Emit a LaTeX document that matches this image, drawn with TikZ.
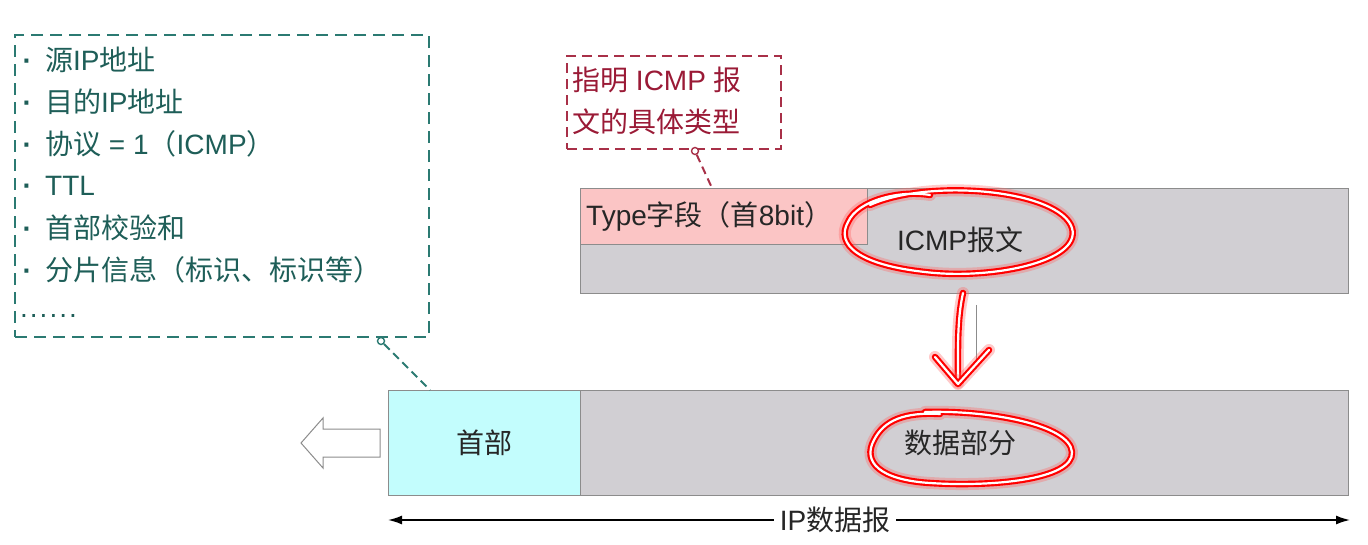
\documentclass[tikz,border=0pt]{standalone}
\usepackage{fontspec}
\setmainfont{Noto Sans CJK SC}
\newfontfamily\latf{Liberation Sans}
\newcommand\lt[1]{{\latf #1}}
\usetikzlibrary{arrows.meta}
\definecolor{tealc}{HTML}{2B7A72}
\definecolor{tealt}{HTML}{1E5E58}
\definecolor{redb}{HTML}{A83048}
\definecolor{redt}{HTML}{9A1A36}
\definecolor{grayf}{HTML}{D1CFD3}
\definecolor{grayd}{HTML}{8C8C8C}
\definecolor{pinkf}{HTML}{FBC5C5}
\definecolor{cyanf}{HTML}{C3FDFD}
\newcommand\redink[1]{%
  \draw[red!60, opacity=0.35, line width=12pt, line cap=round, line join=round] #1;
  \draw[red, line width=6.5pt, line cap=round, line join=round] #1;
  \draw[white, line width=2.2pt, line cap=round, line join=round] #1;}
\newcommand\bul{\makebox[0pt]{\lt{\textbf{·}}}\hspace{18pt}}
\begin{document}
\begin{tikzpicture}[x=1pt,y=-1pt,
  box/.style={draw=grayd, line width=1pt, inner sep=0pt, anchor=north west},
  tealbox/.style={draw=tealc, line width=2.2pt, dash pattern=on 12pt off 7pt, anchor=north west, inner sep=0pt},
  redbox/.style={draw=redb, line width=2.2pt, dash pattern=on 10pt off 6pt, anchor=north west, inner sep=0pt},
  item/.style={text=tealt, anchor=west, inner sep=0pt, font=\fontsize{28}{32}\selectfont},
  rtext/.style={text=redt, anchor=west, inner sep=0pt, font=\fontsize{28}{32}\selectfont},
  lbl/.style={text=black!85, inner sep=0pt, font=\fontsize{28}{32}\selectfont},
  pin/.style={circle, line width=1.4pt, inner sep=0pt, minimum size=7pt, fill=white}]
\useasboundingbox (0,0) rectangle (1368,545);

% teal header-field list
\node[tealbox, minimum width=414pt, minimum height=302pt] (hbox) at (14,34) {};
\node[item] (l1) at (27,60) {\bul 源\lt{IP}地址};
\node[item] (l2) at (27,102) {\bul 目的\lt{IP}地址};
\node[item] (l3) at (27,144) {\bul 协议\lt{ = 1}（\lt{ICMP}）};
\node[item] (l4) at (27,186) {\bul \lt{TTL}};
\node[item] (l5) at (27,228) {\bul 首部校验和};
\node[item] (l6) at (27,270) {\bul 分片信息（标识、标识等）};
\node[item] (l7) at (20,316) {\lt{.\kern2pt.\kern2pt.\kern2pt.\kern2pt.\kern2pt.}};

% red note
\node[redbox, minimum width=214pt, minimum height=93pt] (rbox) at (566,55) {};
\node[rtext] (r1) at (572,80) {指明\lt{ ICMP }报};
\node[rtext] (r2) at (572,122) {文的具体类型};

% ICMP message
\node[box, fill=grayf, minimum width=768pt, minimum height=105pt] (icmp) at (580,188) {};
\node[box, fill=pinkf, minimum width=287pt, minimum height=56pt] (type) at (580,188) {};
\node[lbl, anchor=west] (typel) at (586,216) {\lt{Type}字段（首\lt{8bit}）};
\node[lbl] (icmpl) at (960,240) {\lt{ICMP}报文};
\draw[grayd, line width=1pt] (976,305) -- (976,368);

% IP datagram
\node[box, fill=grayf, minimum width=960pt, minimum height=105pt] (ip) at (388,390) {};
\node[box, fill=cyanf, minimum width=192pt, minimum height=105pt] (hdr) at (388,390) {};
\node[lbl] (hdrl) at (484,443) {首部};
\node[lbl] (datal) at (960,443) {数据部分};

% hollow arrow
\draw[grayd, fill=white, line width=1pt, line join=miter]
  (380,429) -- (323,429) -- (323,418) -- (301,443) -- (323,468) -- (323,457) -- (380,457) -- cycle;

% callout connectors
\node[pin, draw=tealc] (hpin) at (381,341) {};
\coordinate (hend) at (430,390);
\draw[tealc, line width=2pt, dash pattern=on 8pt off 5pt] (hpin) -- (hend);
\node[pin, draw=redb] (rpin) at (695,151) {};
\coordinate (rend) at (712,188);
\draw[redb, line width=2pt, dash pattern=on 8pt off 5pt] (rpin) -- (rend);

% total length arrow
\coordinate (al) at (388,520);
\coordinate (ar) at (1350,520);
\draw[black, line width=1.6pt, {Latex[length=14pt,width=9pt]}-{Latex[length=14pt,width=9pt]}] (al) -- (ar);
\node[lbl, fill=white, inner xsep=6pt, inner ysep=3pt] (ipl) at (835,520) {\lt{IP}数据报};

% red hand annotations
\redink{(870,205) .. controls (930,178) and (1060,190) .. (1072,228) .. controls (1082,262) and (990,280) .. (925,272) .. controls (860,265) and (835,245) .. (848,222) .. controls (858,200) and (900,190) .. (930,195)}
\redink{(963,293) .. controls (957,320) and (958,350) .. (958,383)}
\redink{(935,357) -- (958,384) -- (989,350)}
\redink{(925,412) .. controls (990,410) and (1070,425) .. (1072,452) .. controls (1074,480) and (990,487) .. (930,483) .. controls (880,480) and (862,462) .. (874,440) .. controls (884,420) and (905,412) .. (940,414)}
\end{tikzpicture}
\end{document}
